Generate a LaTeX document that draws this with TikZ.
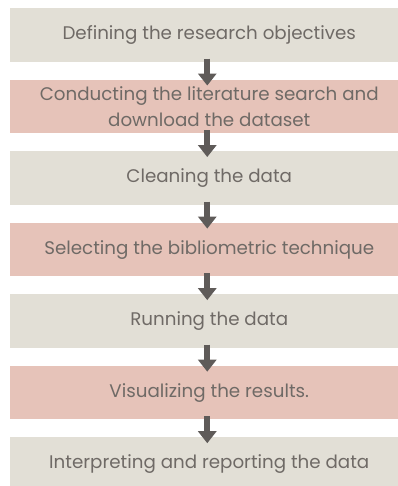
\documentclass[tikz,border=0pt]{standalone}
\usepackage{fontspec}
\setmainfont{Poppins}
\usepackage{xcolor}
\usepackage{tikz}
\usetikzlibrary{arrows.meta, positioning}

\definecolor{stonegray}{HTML}{E2DFD6}
\definecolor{dustypink}{HTML}{E6C3B9}
\definecolor{inkgray}{HTML}{6F6A66}
\definecolor{arrowgray}{HTML}{5F5B59}

\begin{document}
\begin{tikzpicture}[node distance=13.25pt,
    stage/.style={rectangle, fill=stonegray, inner sep=0pt, minimum width=298.5pt, minimum height=40pt, align=center, text=inkgray, font=\fontsize{13.7}{20}\selectfont},
    stagealt/.style={stage, fill=dustypink},
    line/.style={draw=arrowgray, line width=4.5pt, -{Triangle[width=13.5pt, length=9pt]}}]

    \useasboundingbox (0,0) rectangle (298.5pt,-364.5pt);

    \node [stage, anchor=north west] (objectives) at (7.5pt,-6pt) {Defining the research objectives};
    \node [stagealt, below=of objectives] (search) {Conducting the literature search and\\download the dataset};
    \node [stage, below=of search] (cleaning) {Cleaning the data};
    \node [stagealt, below=of cleaning] (technique) {Selecting the bibliometric technique};
    \node [stage, below=of technique] (running) {Running the data};
    \node [stagealt, below=of running] (results) {Visualizing the results.};
    \node [stage, below=of results] (reporting) {Interpreting and reporting the data};

    % arrows overlap both boxes a little
    \foreach \a/\b in {objectives/search, search/cleaning, cleaning/technique, technique/running, running/results, results/reporting}
        \path [line] ([xshift=-1.5pt, yshift=2.5pt]\a.south) -- ([xshift=-1.5pt, yshift=-4.5pt]\b.north);
\end{tikzpicture}
\end{document}
